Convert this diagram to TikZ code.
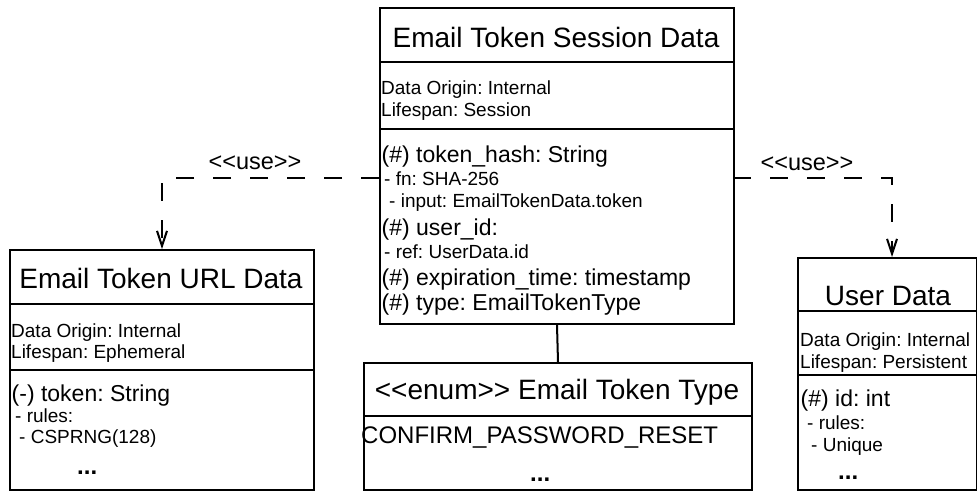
\documentclass[tikz,border=0pt]{standalone}
\usepackage{fontspec}
\setmainfont{Liberation Sans}
\usetikzlibrary{arrows.meta}
% stereotype brackets, boxed one by one so they stay plain angle brackets
\newcommand\stopen{\mbox{<}\mbox{<}}
\newcommand\stclose{\mbox{>}\mbox{>}}
\frenchspacing
\begin{document}
\begin{tikzpicture}[x=1pt,y=-1pt,
  classbox/.style={draw, line width=2pt, anchor=north west, inner sep=0pt},
  rule/.style={line width=2pt},
  titletxt/.style={font=\fontsize{28}{34}\selectfont, anchor=base, inner sep=0pt},
  meta/.style={font=\fontsize{19}{23}\selectfont, anchor=base west, inner sep=0pt},
  attr/.style={font=\fontsize{23}{28}\selectfont, anchor=base west, inner sep=0pt},
  enumitem/.style={font=\fontsize{24}{29}\selectfont, anchor=base west, inner sep=0pt},
  more/.style={font=\fontsize{24}{28}\selectfont\bfseries, anchor=base west, inner sep=0pt},
  uselbl/.style={font=\fontsize{23.5}{28}\selectfont, anchor=base, inner sep=0pt},
  dep/.style={line width=2pt, dash pattern=on 18pt off 19pt,
    -{Straight Barb[length=15pt,width=10pt]}},
  link/.style={line width=2pt}]
\useasboundingbox (0,0) rectangle (977,491);

% ---- Email Token Session Data ----
\node[classbox, minimum width=354pt, minimum height=316pt] (session) at (379,7) {};
\draw[rule] (session.west |- 0,62) -- (session.east |- 0,62);
\draw[rule] (session.west |- 0,129) -- (session.east |- 0,129);
\node[titletxt] (sTitle) at (556,47) {Email Token Session Data};
\node[meta] (sOrigin) at (381,94) {Data Origin: Internal};
\node[meta] (sLife) at (381,116) {Lifespan: Session};
\node[attr] (sHash) at (381.5,162) {(\#) token\_hash: String};
\node[meta] (sFn) at (384,185) {- fn: SHA-256};
\node[meta] (sInput) at (389,207) {- input: EmailTokenData.token};
\node[attr] (sUser) at (381.5,235) {(\#) user\_id:};
\node[meta] (sRef) at (384,258) {- ref: UserData.id};
\node[attr] (sExp) at (381.5,285) {(\#) expiration\_time: timestamp};
\node[attr] (sType) at (381.5,310) {(\#) type: EmailTokenType};

% ---- Email Token URL Data ----
\node[classbox, minimum width=304pt, minimum height=240pt] (url) at (9,249) {};
\draw[rule] (url.west |- 0,304) -- (url.east |- 0,304);
\draw[rule] (url.west |- 0,370) -- (url.east |- 0,370);
\node[titletxt] (uTitle) at (161,288) {Email Token URL Data};
\node[meta] (uOrigin) at (11,337) {Data Origin: Internal};
\node[meta] (uLife) at (11,358) {Lifespan: Ephemeral};
\node[attr] (uToken) at (11.5,401) {(-) token: String};
\node[meta] (uRules) at (15,422) {- rules:};
\node[meta] (uRand) at (19,443) {- CSPRNG(128)};
\node[more] (uMore) at (77,474) {...};

% ---- User Data ----
\node[classbox, minimum width=179pt, minimum height=232pt] (user) at (797,257) {};
\draw[rule] (user.west |- 0,311) -- (user.east |- 0,311);
\draw[rule] (user.west |- 0,375) -- (user.east |- 0,375);
\node[titletxt] (dTitle) at (888,305) {User Data};
\node[meta] (dOrigin) at (800,346) {Data Origin: Internal};
\node[meta] (dLife) at (800,368) {Lifespan: Persistent};
\node[attr] (dId) at (800.5,406) {(\#) id: int};
\node[meta] (dRules) at (807,429) {- rules:};
\node[meta] (dUnique) at (811,451) {- Unique};
\node[more] (dMore) at (838,479) {...};

% ---- <<enum>> Email Token Type ----
\node[classbox, minimum width=388pt, minimum height=127pt] (kind) at (363,362) {};
\draw[rule] (kind.west |- 0,416) -- (kind.east |- 0,416);
\node[titletxt] (kTitle) at (557,399) {\stopen enum\stclose{} Email Token Type};
\node[enumitem] (kReset) at (361,443) {CONFIRM\_PASSWORD\_RESET};
\node[more] (kMore) at (530,481) {...};

% ---- connectors ----
\coordinate (sLeft) at (379,178);
\coordinate (sRight) at (733,178);
\coordinate (uTop) at (162,249);
\coordinate (dTop) at (892,257);
\draw[dep] (sLeft) -| (uTop);
\draw[dep] (sRight) -| (dTop);
\draw[link] (session.south) -- (kind.north);
\node[uselbl] (useL) at (255,169) {\stopen use\stclose};
\node[uselbl] (useR) at (807,170) {\stopen use\stclose};
\end{tikzpicture}
\end{document}
